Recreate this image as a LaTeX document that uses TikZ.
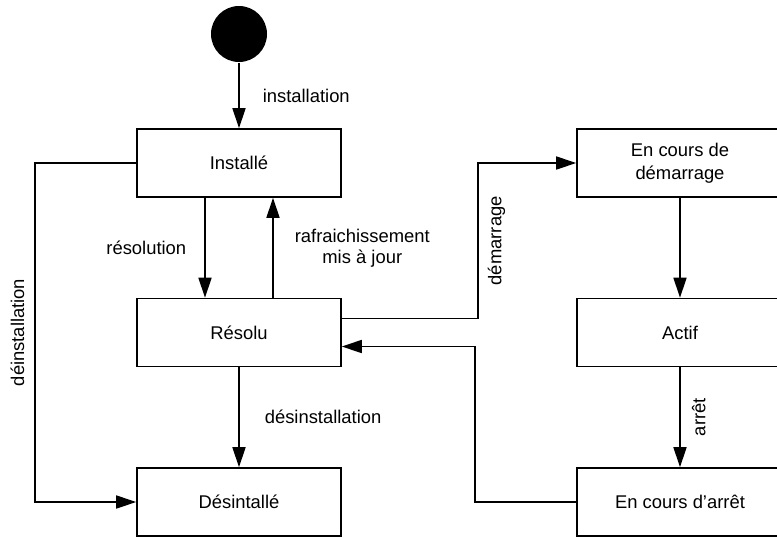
\documentclass[tikz,border=0pt]{standalone}
\usepackage{fontspec}
\setmainfont{Liberation Sans}
\usetikzlibrary{arrows.meta}

\begin{document}
\begin{tikzpicture}
            [x=0.5pt, y=-0.5pt, line width=0.8pt, >={Triangle[length=10pt,width=6.5pt]},
             font=\fontsize{9.2pt}{11.5pt}\selectfont,
             etat/.style={shape=rectangle, draw=black, minimum width=102pt, minimum height=34pt, align=center, inner sep=0pt},
             lbl/.style={inner sep=0pt, align=center, font=\fontsize{9.2pt}{10.5pt}\selectfont}]
            \useasboundingbox (0,0) rectangle (777,537);

            \node[shape=circle, fill=black, minimum size=28pt, inner sep=0pt] (init) at (239, 34) {};
            \node[etat] (inst) at (239, 163) {Installé};
            \node[etat] (res) at (239, 332.5) {Résolu};
            \node[etat] (desinst) at (239, 502) {Désintallé};
            \node[etat, minimum width=103pt] (demarr) at (680, 163) {En cours de\\démarrage};
            \node[etat, minimum width=103pt] (actif) at (680, 332.5) {Actif};
            \node[etat, minimum width=103pt] (arret) at (680, 502) {En cours d'arrêt};

            % colonne de gauche
            \draw[->] (init) -- (inst) node[lbl, midway, anchor=west, xshift=11.5pt] {installation};
            \draw[->] ([xshift=-17pt]inst.south) -- ([xshift=-17pt]res.north)
                node[lbl, midway, anchor=east, xshift=-9pt] {résolution};
            \draw[->] ([xshift=17pt]res.north) -- ([xshift=17pt]inst.south)
                node[lbl, midway, anchor=west, xshift=10.5pt] {rafraichissement\\mis à jour};
            \draw[->] (res) -- (desinst) node[lbl, midway, anchor=west, xshift=12.5pt] {désinstallation};
            \draw[->] (inst.west) -- ++(-101, 0) |- node[lbl, pos=.25, rotate=90, anchor=south, outer sep=5.5pt] {déinstallation} (desinst.west);

            % colonne de droite
            \draw[->] ([yshift=7pt]res.east) -- ++(136, 0) |- node[lbl, pos=.25, rotate=90, anchor=north, outer sep=5pt] {démarrage} (demarr.west);
            \draw[->] (demarr) -- (actif);
            \draw[->] (actif) -- (arret) node[lbl, midway, rotate=90, anchor=north, outer sep=6pt] {arrêt};
            \draw[->] (arret.west) -- ++(-101, 0) |- ([yshift=-7pt]res.east);
        \end{tikzpicture}
\end{document}
